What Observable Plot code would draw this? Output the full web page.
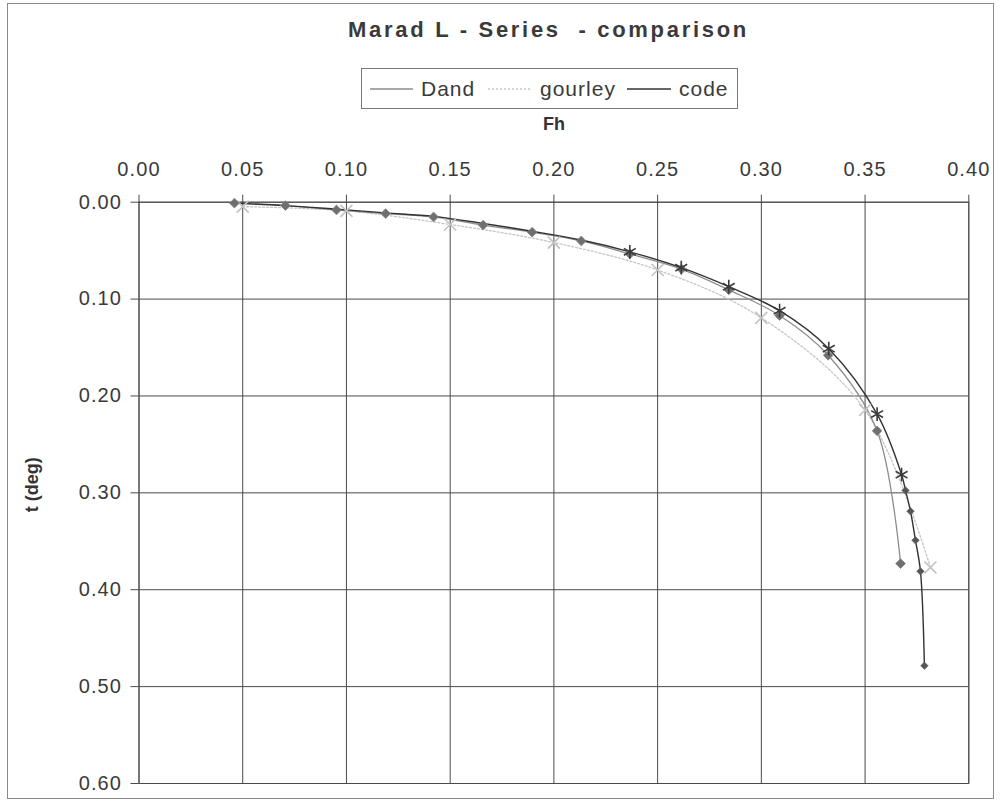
<!DOCTYPE html>
<html>
<head>
<meta charset="utf-8">
<script src="https://cdn.jsdelivr.net/npm/d3@7"></script>
<script src="https://cdn.jsdelivr.net/npm/@observablehq/plot@0.6"></script>
<style>
  html, body { margin: 0; padding: 0; background: #fff; }
  body { font-family: "Liberation Sans", Arial, sans-serif; color: #333; }
  #wrap { position: relative; width: 1003px; height: 804px; overflow: hidden; }
  #border { position: absolute; left: 7px; top: 3px; width: 987px; height: 796px; border: 1px solid #8a8a8a; box-sizing: border-box; }
  #title { position: absolute; left: 0; width: 1097px; top: 17px; text-align: center; font-weight: bold; font-size: 22px; letter-spacing: 2.7px; color: #3a3a3a; }
  #legend { position: absolute; left: 361px; top: 68px; width: 377px; height: 41px; border: 1px solid #7a7a7a; box-sizing: border-box; }
  .item { position: absolute; top: 0; height: 39px; display: flex; align-items: center; font-size: 21px; letter-spacing: 1px; color: #3a3a3a; }
  .item svg { margin-right: 8px; }
  #chart { position: absolute; left: 0; top: 110px; }
  #chart g[aria-label="x-axis tick label"] text,
  #chart g[aria-label="y-axis tick label"] text { letter-spacing: 1.1px; }
</style>
</head>
<body>
<div id="wrap">
  <div id="border"></div>
  <div id="title">Marad L - Series&nbsp; - comparison</div>
  <div id="legend"></div>
  <div id="chart"></div>
</div>
<script>
// Froude number (Fh) vs trim t (deg) for the three methods
const dandFh = [0.046, 0.0706, 0.0952, 0.1189, 0.142, 0.1659, 0.1895, 0.2132, 0.2366, 0.2615, 0.2843, 0.3088, 0.3322, 0.3558, 0.3671];
const dandT  = [0.001, 0.0035, 0.008, 0.0117, 0.0152, 0.0236, 0.031, 0.040, 0.0534, 0.069, 0.0905, 0.117, 0.158, 0.236, 0.373];

const gourleyFh = [0.05, 0.10, 0.15, 0.20, 0.25, 0.30, 0.35, 0.3815];
const gourleyT  = [0.0046, 0.009, 0.023, 0.0417, 0.070, 0.1194, 0.2145, 0.377];

const codeFh = [0.046, 0.0706, 0.0952, 0.1189, 0.142, 0.1659, 0.1895, 0.2132, 0.2366, 0.2614, 0.2843, 0.3088, 0.3325, 0.3558, 0.3676, 0.3695, 0.3719, 0.3743, 0.3767, 0.3786];
const codeT  = [0.001, 0.0035, 0.0072, 0.011, 0.0146, 0.022, 0.030, 0.039, 0.0512, 0.0676, 0.0872, 0.112, 0.1512, 0.2187, 0.2812, 0.2975, 0.319, 0.349, 0.381, 0.4784];

const seriesNames = ["Dand", "gourley", "code"];
const xTicks = [0, 0.05, 0.10, 0.15, 0.20, 0.25, 0.30, 0.35, 0.40];
const xTickLabels = ["0.00", "0.05", "0.10", "0.15", "0.20", "0.25", "0.30", "0.35", "0.40"];
const yTicks = [0, 0.1, 0.2, 0.3, 0.4, 0.5, 0.6];
const yTickLabels = ["0.00", "0.10", "0.20", "0.30", "0.40", "0.50", "0.60"];

const toRows = (xs, ys) => xs.map((x, i) => ({Fh: x, t: ys[i], i}));
const dand = toRows(dandFh, dandT);
const gourley = toRows(gourleyFh, gourleyT);
const code = toRows(codeFh, codeT);

const FONT = '"Liberation Sans", Arial, sans-serif';
const GRID = "#4a4a4a";
const lineStyles = {
  Dand: {stroke: "#8c8c8c", dash: null, width: 1.3},
  gourley: {stroke: "#c6c6c6", dash: "2,2", width: 1.3},
  code: {stroke: "#333333", dash: null, width: 1.4}
};

// legend with line samples
const legend = document.getElementById("legend");
const itemPos = [{left: 8, sample: 43}, {left: 126, sample: 44}, {left: 265, sample: 44}];
seriesNames.forEach((name, k) => {
  const st = lineStyles[name];
  const div = document.createElement("div");
  div.className = "item";
  div.style.left = itemPos[k].left + "px";
  div.innerHTML = `<svg width="${itemPos[k].sample}" height="4"><line x1="0" x2="${itemPos[k].sample}" y1="2" y2="2" stroke="${st.stroke}" stroke-width="${st.width}" ${st.dash ? `stroke-dasharray="${st.dash}"` : ""}/></svg><span>${name}</span>`;
  legend.appendChild(div);
});

const W = 1003, H = 690;
const chart = Plot.plot({
  width: W,
  height: H,
  marginLeft: 138.5,
  marginRight: 34.7,
  marginTop: 91.7,
  marginBottom: 17,
  style: {fontFamily: FONT, color: "#333", background: "transparent", overflow: "visible"},
  x: {domain: [0, 0.4]},
  y: {domain: [0, 0.6], reverse: true},
  marks: [
    Plot.gridX(xTicks, {stroke: GRID, strokeOpacity: 1, strokeWidth: 1}),
    Plot.gridY(yTicks, {stroke: GRID, strokeOpacity: 1, strokeWidth: 1}),
    Plot.frame({stroke: GRID, strokeWidth: 1}),
    Plot.axisX(xTicks, {anchor: "top", tickSize: 8, tickPadding: 18, fontSize: 20, stroke: GRID,
      tickFormat: (d) => xTickLabels[xTicks.indexOf(d)], label: null, fill: "#3a3a3a"}),
    Plot.axisY(yTicks, {anchor: "left", tickSize: 8, tickPadding: 9, fontSize: 20, stroke: GRID,
      tickFormat: (d) => yTickLabels[yTicks.indexOf(d)], label: null, fill: "#3a3a3a"}),
    Plot.text(["Fh"], {frameAnchor: "top", dy: -85, fontWeight: "bold", fontSize: 18, fill: "#333"}),
    Plot.text(["t (deg)"], {frameAnchor: "left", textAnchor: "middle", dx: -106.5, dy: -8, rotate: -90, fontWeight: "bold", fontSize: 18, fill: "#333"}),

    // curves
    Plot.line(gourley, {x: "Fh", y: "t", stroke: lineStyles.gourley.stroke, strokeWidth: lineStyles.gourley.width, strokeDasharray: lineStyles.gourley.dash, curve: "catmull-rom"}),
    Plot.line(dand, {x: "Fh", y: "t", stroke: lineStyles.Dand.stroke, strokeWidth: lineStyles.Dand.width, curve: "catmull-rom"}),
    Plot.line(code, {x: "Fh", y: "t", stroke: lineStyles.code.stroke, strokeWidth: lineStyles.code.width, curve: "catmull-rom"}),

    // markers
    Plot.dot(gourley, {x: "Fh", y: "t", symbol: "times", r: 5.5, stroke: "#c2c2c2", strokeWidth: 1.6}),
    Plot.dot(dand, {x: "Fh", y: "t", symbol: "diamond2", r: 4.4, fill: "#6f6f6f", stroke: "#888", strokeWidth: 0.8}),
    Plot.dot(code, {filter: (d) => d.i >= 8 && d.i <= 14, x: "Fh", y: "t", symbol: "asterisk", r: 6.5, stroke: "#3a3a3a", strokeWidth: 1.6}),
    Plot.dot(code, {filter: (d) => d.i >= 15, x: "Fh", y: "t", symbol: "diamond2", r: 3.4, fill: "#555", stroke: "#666", strokeWidth: 0.6})
  ]
});
document.getElementById("chart").appendChild(chart);
</script>
</body>
</html>
